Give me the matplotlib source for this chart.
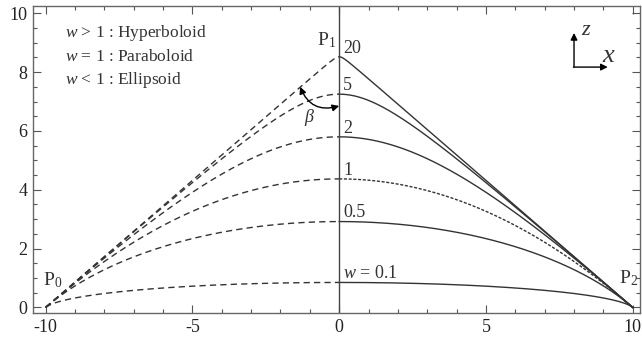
import numpy as np
import matplotlib
matplotlib.use("Agg")
import matplotlib.pyplot as plt

plt.rcParams['font.family'] = ['Liberation Serif', 'DejaVu Serif']
plt.rcParams['mathtext.fontset'] = 'custom'
plt.rcParams['mathtext.rm'] = 'Liberation Serif'
plt.rcParams['mathtext.it'] = 'Liberation Serif:italic'

# ---- data ----
P0 = (-10.0, 0.0)
P1 = (0.0, 8.64)
P2 = (10.0, 0.0)
weight_labels = [r'$w$ = 0.1', '0.5', '1', '2', '5', '20']
peak_z = [0.85, 2.92, 4.37, 5.80, 7.25, 8.52]   # curve heights at x = 0
legend_lines = [r'$w$ > 1 : Hyperboloid', r'$w$ = 1 : Paraboloid', r'$w$ < 1 : Ellipsoid']
xticks = [-10, -5, 0, 5, 10]
yticks = [0, 2, 4, 6, 8, 10]

col = '#333333'

def rbezier(w, t):
    b0 = (1 - t) ** 2
    b1 = 2 * w * t * (1 - t)
    b2 = t ** 2
    d = b0 + b1 + b2
    x = (b0 * P0[0] + b1 * P1[0] + b2 * P2[0]) / d
    y = (b0 * P0[1] + b1 * P1[1] + b2 * P2[1]) / d
    return x, y

fig = plt.figure(figsize=(6.42, 3.47), dpi=100)
ax = fig.add_axes([0.0514, 0.097, 0.9456, 0.886])

tl = np.linspace(0, 0.5, 400)
tr = np.linspace(0.5, 1, 400)
for lab, pz in zip(weight_labels, peak_z):
    w = pz / (P1[1] - pz)          # effective weight giving this peak height
    xl, yl = rbezier(w, tl)
    xr, yr = rbezier(w, tr)
    ax.plot(xl, yl, color=col, lw=1.0, dashes=(4.5, 3))
    if lab == '1':
        ax.plot(xr, yr, color=col, lw=1.0, dashes=(2.2, 1.2))
    else:
        ax.plot(xr, yr, color=col, lw=1.0)
    ax.text(0.13, pz + 0.14, lab, fontsize=13, color=col, ha='left', va='baseline')

# vertical axis line
ax.axvline(0, color='#444444', lw=1.0)

# point labels
ax.text(-0.1, 8.92, r'P$_1$', fontsize=14, color=col, ha='right', va='baseline')
ax.text(-10.1, 0.76, r'P$_0$', fontsize=14, color=col, ha='left', va='baseline')
ax.text(10.2, 0.83, r'P$_2$', fontsize=14, color=col, ha='right', va='baseline')

# legend text
for i, s in enumerate(legend_lines):
    ax.text(-9.35, 9.33 - 0.8 * i, s, fontsize=12.5, color=col, ha='left', va='center')

# beta arrow
ax.annotate('', xy=(0.0, 6.85), xytext=(-1.33, 7.5),
            arrowprops=dict(arrowstyle='<|-|>', color='black', lw=1.0,
                            mutation_scale=10, shrinkA=0, shrinkB=0,
                            connectionstyle='arc3,rad=0.45'))
ax.text(-1.02, 6.45, r'$\beta$', fontsize=13, color=col, ha='center', va='center')

# coordinate icon
ax.annotate('', xy=(8.0, 9.33), xytext=(8.0, 8.17),
            arrowprops=dict(arrowstyle='-|>', color='black', lw=1.0,
                            mutation_scale=10, shrinkA=0, shrinkB=0))
ax.annotate('', xy=(9.15, 8.17), xytext=(7.98, 8.17),
            arrowprops=dict(arrowstyle='-|>', color='black', lw=1.0,
                            mutation_scale=10, shrinkA=0, shrinkB=0))
ax.text(8.42, 9.4, r'$z$', fontsize=16, color=col, ha='center', va='center')
ax.text(9.2, 8.55, r'$x$', fontsize=19, color=col, ha='center', va='center')

ax.set_xlim(-10.43, 10.25)
ax.set_ylim(-0.2, 10.25)
ax.set_xticks(xticks)
ax.set_xticklabels([str(v) for v in xticks])
ax.set_yticks(yticks)
ax.set_yticklabels([str(v) for v in yticks])
ax.set_xticks(np.arange(-10, 11, 1), minor=True)
ax.set_yticks(np.arange(0, 10.01, 0.5), minor=True)
ax.tick_params(which='both', direction='in', top=True, right=True, colors='#555555',
               labelcolor='#222222', labelsize=13, width=0.8)
ax.tick_params(which='major', length=6, pad=4)
ax.tick_params(which='minor', length=3)
for sp in ax.spines.values():
    sp.set_color('#666666')
    sp.set_linewidth(1.0)

fig.savefig('out.png', dpi=100)
